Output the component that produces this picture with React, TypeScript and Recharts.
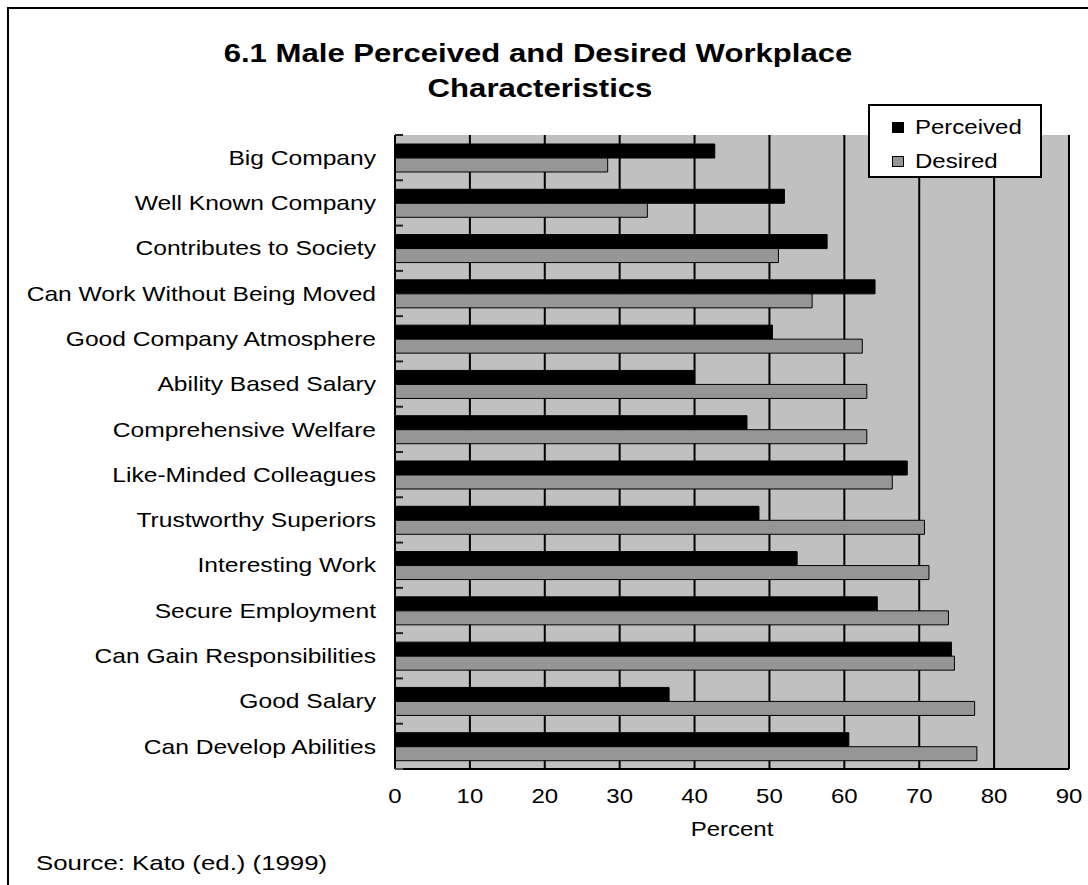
import { BarChart, Bar, XAxis, YAxis, CartesianGrid, Legend } from "recharts";

const CATEGORIES = [
  "Big Company",
  "Well Known Company",
  "Contributes to Society",
  "Can Work Without Being Moved",
  "Good Company Atmosphere",
  "Ability Based Salary",
  "Comprehensive Welfare",
  "Like-Minded Colleagues",
  "Trustworthy Superiors",
  "Interesting Work",
  "Secure Employment",
  "Can Gain Responsibilities",
  "Good Salary",
  "Can Develop Abilities",
];

const PERCEIVED = [42.7, 52.0, 57.7, 64.1, 50.4, 40.0, 47.0, 68.4, 48.6, 53.7, 64.4, 74.3, 36.6, 60.6];
const DESIRED = [28.4, 33.7, 51.2, 55.7, 62.4, 63.0, 63.0, 66.4, 70.7, 71.3, 73.9, 74.7, 77.4, 77.7];

const X_TICKS = [0, 10, 20, 30, 40, 50, 60, 70, 80, 90];

const data = CATEGORIES.map((name, i) => ({
  name,
  perceived: PERCEIVED[i],
  desired: DESIRED[i],
}));

const FONT = '"Liberation Sans", Arial, sans-serif';
const W = 1088;
const H = 885;
const MARGIN = { top: 135, right: 19, bottom: 49, left: 0 };
const PLOT_H = H - MARGIN.top - MARGIN.bottom - 67;
// the old spreadsheet export draws its type a little wide
const STRETCH = 1.2;

function WideText({ x, y, anchor = "start", size = 20, weight = "normal", sx = STRETCH, dy, children }: any) {
  return (
    <text
      transform={`translate(${x},${y}) scale(${sx},1)`}
      x={0}
      y={0}
      dy={dy}
      textAnchor={anchor}
      fontSize={size}
      fontWeight={weight}
      fontFamily={FONT}
      fill="#000"
    >
      {children}
    </text>
  );
}

// category label plus a short inward tick at each band boundary
function CategoryTick(props: any) {
  const { x, y, payload, index } = props;
  const half = payload?.offset || PLOT_H / CATEGORIES.length / 2;
  const axisX = x + 19;
  return (
    <g>
      <WideText x={x} y={y} dy="0.355em" anchor="end" size={20.5}>
        {payload.value}
      </WideText>
      <line x1={axisX} x2={axisX + 8} y1={y - half} y2={y - half} stroke="#222" strokeWidth={2} />
      {index === CATEGORIES.length - 1 && (
        <line x1={axisX} x2={axisX + 8} y1={y + half} y2={y + half} stroke="#555" strokeWidth={2} />
      )}
    </g>
  );
}

function PercentTick(props: any) {
  const { x, y, payload } = props;
  return (
    <WideText x={x} y={y} dy="0.71em" anchor="middle" size={20}>
      {payload.value}
    </WideText>
  );
}

function LegendBox() {
  const rows = [
    { label: "Perceived", fill: "#000" },
    { label: "Desired", fill: "#969696" },
  ];
  return (
    <div
      style={{
        boxSizing: "border-box",
        width: 174,
        height: 74,
        border: "2px solid #000",
        background: "#fff",
        fontFamily: FONT,
        fontSize: 20,
        color: "#000",
        paddingTop: 4,
      }}
    >
      {rows.map((r) => (
        <div key={r.label} style={{ display: "flex", alignItems: "center", height: 34, paddingLeft: 22 }}>
          <span
            style={{
              display: "inline-block",
              boxSizing: "border-box",
              width: 12,
              height: 11,
              background: r.fill,
              border: "1px solid #000",
              marginRight: 11,
            }}
          />
          <span style={{ display: "inline-block", transform: `scaleX(${STRETCH})`, transformOrigin: "left center" }}>
            {r.label}
          </span>
        </div>
      ))}
    </div>
  );
}

export default function App() {
  return (
    <div
      style={{
        position: "absolute",
        left: 0,
        top: 0,
        width: W,
        height: H,
        overflow: "hidden",
        background: "#fff",
      }}
    >
      <div
        style={{
          position: "absolute",
          left: 7,
          top: 7,
          width: W + 20,
          height: H + 20,
          border: "2px solid #000",
        }}
      />
      <BarChart
        width={W}
        height={H}
        data={data}
        layout="vertical"
        margin={MARGIN}
        barGap={0}
        barSize={14}
      >
        <CartesianGrid
          horizontal={false}
          vertical
          stroke="#000"
          strokeWidth={2}
          fill="#c0c0c0"
          fillOpacity={1}
        />
        <XAxis
          type="number"
          domain={[0, 90]}
          ticks={X_TICKS}
          interval={0}
          height={67}
          tickLine={false}
          tickSize={0}
          tickMargin={20}
          axisLine={{ stroke: "#000", strokeWidth: 2 }}
          tick={<PercentTick />}
        />
        <XAxis
          xAxisId="top"
          orientation="top"
          type="number"
          domain={[0, 90]}
          height={0}
          tick={false}
          tickLine={false}
          axisLine={{ stroke: "#808080", strokeWidth: 2 }}
        />
        <YAxis
          type="category"
          dataKey="name"
          width={395}
          interval={0}
          tickLine={false}
          tickSize={0}
          tickMargin={19}
          axisLine={{ stroke: "#000", strokeWidth: 2 }}
          tick={<CategoryTick />}
        />
        <YAxis
          yAxisId="right"
          orientation="right"
          type="category"
          dataKey="name"
          width={0}
          tick={false}
          tickLine={false}
          axisLine={{ stroke: "#808080", strokeWidth: 2 }}
        />
        <Legend
          layout="horizontal"
          verticalAlign="middle"
          align="center"
          content={<LegendBox />}
          wrapperStyle={{ left: 868, top: 104, width: 174, height: 74 }}
        />
        <Bar dataKey="perceived" name="Perceived" fill="#000" stroke="#000" strokeWidth={1} isAnimationActive={false} />
        <Bar dataKey="desired" name="Desired" fill="#969696" stroke="#000" strokeWidth={1} isAnimationActive={false} />
      </BarChart>
      <svg
        width={W}
        height={H}
        style={{ position: "absolute", left: 0, top: 0, pointerEvents: "none" }}
      >
        <WideText x={538} y={62} anchor="middle" size={25.5} weight="bold" sx={1.22}>
          6.1 Male Perceived and Desired Workplace
        </WideText>
        <WideText x={540} y={97} anchor="middle" size={25.5} weight="bold" sx={1.22}>
          Characteristics
        </WideText>
        <WideText x={732} y={836} anchor="middle" size={20}>
          Percent
        </WideText>
        <WideText x={36} y={870} size={21} sx={1.23}>
          Source: Kato (ed.) (1999)
        </WideText>
      </svg>
    </div>
  );
}
